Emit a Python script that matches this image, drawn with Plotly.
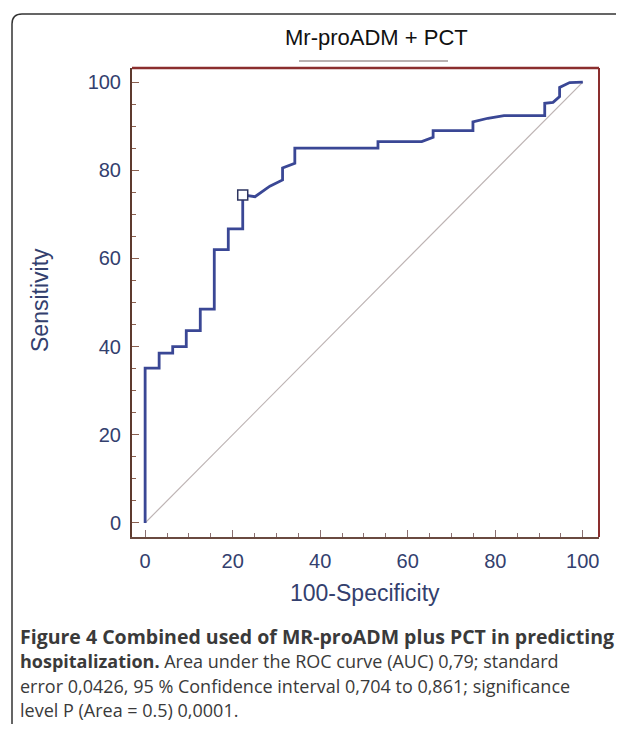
import plotly.graph_objects as go

# ROC curve points (100-Specificity, Sensitivity)
fpr = [0, 0, 3.2, 3.2, 6.3, 6.3, 9.4, 9.4, 12.6, 12.6, 15.8, 15.8, 19, 19, 22.3, 22.3,
       25.1, 28.5, 31.4, 31.4, 34.2, 34.2, 53.2, 53.2, 63.2, 65.8, 65.8, 74.9, 74.9,
       78.3, 82.0, 91.3, 91.3, 93.2, 94.7, 94.7, 97.0, 100]
tpr = [0, 35.1, 35.1, 38.5, 38.5, 40.0, 40.0, 43.6, 43.6, 48.5, 48.5, 62.0, 62.0, 66.7, 66.7, 74.4,
       74.0, 76.4, 77.8, 80.5, 81.6, 85.0, 85.0, 86.5, 86.5, 87.5, 89.0, 89.0, 91.0,
       91.8, 92.4, 92.4, 95.2, 95.4, 96.7, 98.8, 99.9, 100]
# Optimal cut-off point
cut_x = [22.3]
cut_y = [74.4]
# Reference diagonal
diag_x = [0, 100]
diag_y = [0, 100]

tick_vals = [0, 20, 40, 60, 80, 100]
tick_text = ["0", "20", "40", "60", "80", "100"]

title_text = "Mr-proADM + PCT"
x_title = "100-Specificity"
y_title = "Sensitivity"
caption_lines = [
    "<b>Figure 4 Combined used of MR-proADM plus PCT in predicting</b>",
    "<b>hospitalization.</b> Area under the ROC curve (AUC) 0,79; standard",
    "error 0,0426, 95 % Confidence interval 0,704 to 0,861; significance",
    "level P (Area = 0.5) 0,0001.",
]

OFF = 8  # page body margin
W, H = 616, 716
L, T = 132 - OFF, 68 - OFF
R = W - (599 - OFF)
B = H - (537 - OFF)
PW, PH = W - L - R, H - T - B


def px(xp):
    return (xp - OFF - L) / PW


def py(yp):
    return (H - B - (yp - OFF)) / PH


fig = go.Figure()
fig.add_trace(go.Scatter(x=diag_x, y=diag_y, mode="lines",
                         line=dict(color="#bdb3b3", width=1.2), hoverinfo="skip"))
fig.add_trace(go.Scatter(x=fpr, y=tpr, mode="lines",
                         line=dict(color="#3a4795", width=2.8), hoverinfo="skip"))
fig.add_trace(go.Scatter(x=cut_x, y=cut_y, mode="markers",
                         marker=dict(symbol="square", size=10, color="white",
                                     line=dict(color="#2e3560", width=1.5)),
                         hoverinfo="skip"))

tick_font = dict(family="Liberation Sans, Arial, sans-serif", size=20, color="#33406e")
title_font = dict(family="Liberation Sans, Arial, sans-serif", size=23, color="#33406e")

fig.update_layout(
    width=W, height=H,
    margin=dict(l=L, r=R, t=T, b=B),
    paper_bgcolor="white", plot_bgcolor="white",
    showlegend=False,
    xaxis=dict(range=[-3.0, 103.7], tickvals=tick_vals, ticktext=tick_text,
               showgrid=False, zeroline=False, showline=True,
               linecolor="#6a4a40", linewidth=2,
               ticks="inside", ticklen=7, tickwidth=1, tickcolor="#8a7070",
               minor=dict(dtick=5, tick0=0, ticks="inside", ticklen=4,
                          tickcolor="#8a7070", showgrid=False),
               tickfont=tick_font, ticklabelstandoff=5),
    yaxis=dict(range=[-3.2, 103.2], tickvals=tick_vals, ticktext=tick_text,
               showgrid=False, zeroline=False, showline=True,
               linecolor="#5e3a2e", linewidth=2,
               ticks="inside", ticklen=7, tickwidth=1, tickcolor="#8a6050",
               minor=dict(dtick=5, tick0=0, ticks="inside", ticklen=4,
                          tickcolor="#8a6050", showgrid=False),
               tickfont=tick_font, ticklabelstandoff=5),
)

shapes = [
    # top and right frame lines
    dict(type="line", xref="paper", yref="paper", x0=0, x1=1, y0=1, y1=1,
         line=dict(color="#8b2e2e", width=2.5)),
    dict(type="line", xref="paper", yref="paper", x0=1, x1=1, y0=0, y1=1,
         line=dict(color="#8b2e2e", width=2)),
    # gray line under the title
    dict(type="line", xref="paper", yref="paper", x0=px(299), x1=px(448),
         y0=py(61), y1=py(61), line=dict(color="#b8b0b0", width=2)),
]
# outer rounded border (top and left)
x0b, ytop, ybot, x1b = px(12), py(14), py(730), px(640)
rx, ry = 10 / PW, 10 / PH
shapes.append(dict(
    type="path", xref="paper", yref="paper",
    path=(f"M {x0b},{ybot} L {x0b},{ytop - ry} Q {x0b},{ytop} {x0b + rx},{ytop} "
          f"L {x1b},{ytop}"),
    line=dict(color="#333333", width=1.5)))
fig.update_layout(shapes=shapes)

ann = [
    dict(text=title_text, x=px(376), y=py(38), xref="paper", yref="paper",
         showarrow=False, xanchor="center", yanchor="middle",
         font=dict(family="Liberation Sans, Arial, sans-serif", size=22, color="#111111")),
    dict(text=x_title, x=px(365), y=py(593), xref="paper", yref="paper",
         showarrow=False, xanchor="center", yanchor="middle",
         font=title_font),
    dict(text=y_title, x=px(40), y=py(300), xref="paper", yref="paper",
         showarrow=False, xanchor="center", yanchor="middle", textangle=-90,
         font=title_font),
]
cap_y = [636, 661, 686, 710]
cap_size = [19.5, 18, 18, 18]
for line, yy, sz in zip(caption_lines, cap_y, cap_size):
    ann.append(dict(text=line, x=px(18), y=py(yy), xref="paper", yref="paper",
                    showarrow=False, xanchor="left", yanchor="middle", align="left",
                    font=dict(family="Open Sans, sans-serif", size=sz, color="#3a3a3a")))
fig.update_layout(annotations=ann)

fig.write_html("out.html")
